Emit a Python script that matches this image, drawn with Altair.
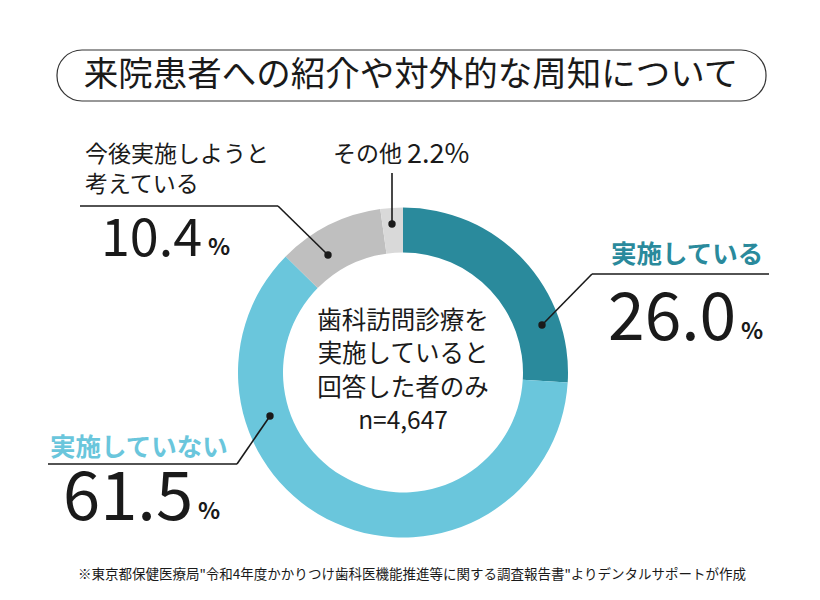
import altair as alt
import pandas as pd

# ---- data ----
categories = ["実施している", "実施していない", "今後実施しようと考えている", "その他"]
values = [26.0, 61.5, 10.4, 2.2]
colors = ["#2a8a9c", "#6ac6dc", "#bfbfbf", "#d9d9d9"]
title_text = "来院患者への紹介や対外的な周知について"
center_lines = ["歯科訪問診療を", "実施していると", "回答した者のみ", "n=4,647"]
footnote = "※東京都保健医療局\"令和4年度かかりつけ歯科医機能推進等に関する調査報告書\"よりデンタルサポートが作成"

FONT = "Noto Sans CJK JP"
DARK = "#1a1a1a"

df = pd.DataFrame({"category": categories, "value": values, "order": list(range(len(categories)))})
one = pd.DataFrame({"a": [0]})

CX, CY = 395, 364.5

donut = alt.Chart(df).mark_arc(radius=165, radius2=120).encode(
    theta=alt.Theta("value:Q", stack=True),
    order=alt.Order("order:Q"),
    color=alt.Color("category:N", scale=alt.Scale(domain=categories, range=colors), legend=None),
    x=alt.value(CX), y=alt.value(CY),
)

base = alt.Chart(one)

def txt(s, x, y, size, color=DARK, weight=400, align="left", baseline="middle"):
    return base.mark_text(text=s, font=FONT, fontSize=size, fontWeight=weight, color=color,
                          align=align, baseline=baseline).encode(x=alt.value(x), y=alt.value(y))

def rule(x1, y1, x2, y2):
    return base.mark_rule(color=DARK, strokeWidth=1.6).encode(
        x=alt.value(x1), y=alt.value(y1), x2=alt.value(x2), y2=alt.value(y2))

def dot(x, y):
    return base.mark_circle(size=55, color=DARK, opacity=1).encode(x=alt.value(x), y=alt.value(y))

box = base.mark_rect(cornerRadius=25, fill="white", stroke="#333333", strokeWidth=1.2).encode(
    x=alt.value(49), x2=alt.value(758), y=alt.value(42), y2=alt.value(93))

fmt = lambda v: f"{v:.1f}"

layers = [
    box,
    txt(title_text, 403, 68, 34.5, align="center"),
    donut,
    # 実施している
    txt(categories[0], 603, 247, 25.5, color=colors[0], weight=700),
    rule(584, 266, 761, 266), rule(584, 266, 534, 317), dot(534, 317),
    txt(fmt(values[0]), 600, 332, 66, baseline="alphabetic"),
    txt("%", 733, 331, 23, weight=700, baseline="alphabetic"),
    # 実施していない
    txt(categories[1], 42, 440, 25.5, color=colors[1], weight=700),
    rule(40, 456, 229, 456), rule(229, 456, 262, 408), dot(262, 408),
    txt(fmt(values[1]), 55, 512, 67, baseline="alphabetic"),
    txt("%", 190, 511, 23, weight=700, baseline="alphabetic"),
    # 今後実施しようと考えている
    txt("今後実施しようと", 77, 147, 23),
    txt("考えている", 77, 177, 23),
    rule(72, 198, 270, 198), rule(270, 198, 320, 247), dot(320, 247),
    txt(fmt(values[2]), 93, 248, 52, baseline="alphabetic"),
    txt("%", 200, 247, 23, weight=700, baseline="alphabetic"),
    # その他
    txt("その他", 325, 147, 23),
    txt(fmt(values[3]) + "%", 399, 155, 27, baseline="alphabetic"),
    rule(384, 165, 384, 216), dot(384, 216),
    # center
    *[txt(s, CX, 314 + i * 33.3, 24.5, align="center") for i, s in enumerate(center_lines)],
    # footnote
    txt(footnote, 404, 567, 13.5, align="center"),
]

chart = alt.layer(*layers).properties(
    width=804, height=584, padding=0, autosize=alt.AutoSizeParams(type="none")
).configure_view(stroke=None)

chart.save("out.html", embed_options={"renderer": "svg", "actions": False})
